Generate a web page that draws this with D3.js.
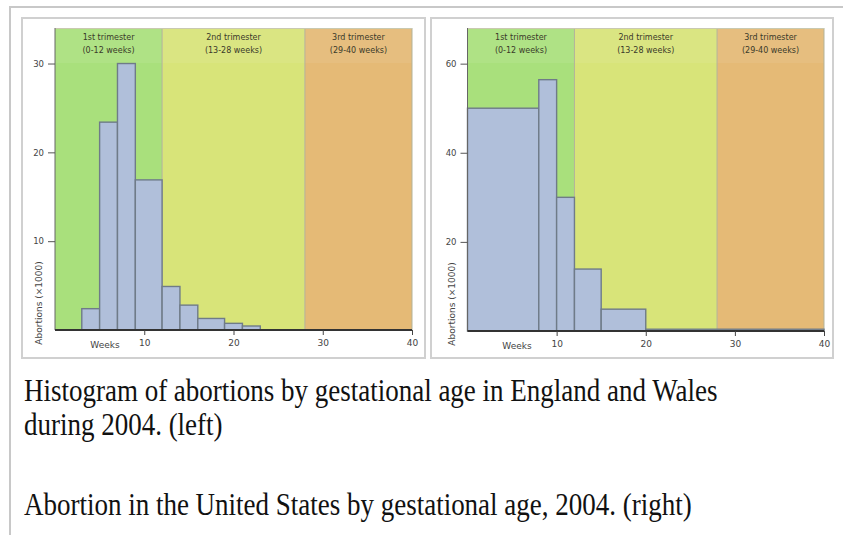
<!DOCTYPE html>
<html>
<head>
<meta charset="utf-8">
<script src="https://cdn.jsdelivr.net/npm/d3@7"></script>
<style>
  html, body { margin: 0; padding: 0; background: #fff; }
  svg { display: block; }
</style>
</head>
<body>
<svg id="chart" width="843" height="535"></svg>
<script>
// ---------- data ----------
const trimesterNames  = ["1st trimester", "2nd trimester", "3rd trimester"];
const trimesterRanges = ["(0-12 weeks)", "(13-28 weeks)", "(29-40 weeks)"];
const trimesterBounds = [0, 12, 28, 40];
const trimesterColors = ["#a9e07c", "#d8e479", "#e5ba76"];

// England and Wales 2004 (abortions x1000 per bin)
const ewBinEdges = [3, 5, 7, 9, 12, 14, 16, 19, 21, 23];
const ewValues   = [2.4, 23.4, 30, 16.9, 4.9, 2.8, 1.3, 0.75, 0.45];
const ewYTicks   = [10, 20, 30];

// United States 2004
const usBinEdges = [0, 8, 10, 12, 15, 20, 40];
const usValues   = [50, 56.4, 30, 13.9, 4.9, 0.4];
const usYTicks   = [20, 40, 60];

const weekTicks = [10, 20, 30, 40];

const captionLines = [
  "Histogram of abortions by gestational age in England and Wales",
  "during 2004. (left)",
  "Abortion in the United States by gestational age, 2004. (right)"
];

// ---------- drawing ----------
const svg = d3.select("#chart");

// outer frame
svg.append("rect").attr("x", 10).attr("y", 7).attr("width", 845).attr("height", 540)
  .attr("fill", "none").attr("stroke", "#c8c8c8").attr("stroke-width", 2);

// thumbnail frames
[[22, 18, 403, 340], [431, 18, 402, 340]].forEach(([x, y, w, h]) => {
  svg.append("rect").attr("x", x).attr("y", y).attr("width", w).attr("height", h)
    .attr("fill", "#fff").attr("stroke", "#d0d0d0").attr("stroke-width", 2);
});

function drawPanel(cfg) {
  const g = svg.append("g");
  const x = d3.scaleLinear().domain([0, 40]).range([cfg.left, cfg.right]);
  const y = d3.scaleLinear().domain([0, cfg.yMax]).range([cfg.bottom, cfg.top]);

  // trimester backgrounds
  const tri = trimesterNames.map((n, i) => ({
    name: n, range: trimesterRanges[i],
    x0: trimesterBounds[i], x1: trimesterBounds[i + 1], color: trimesterColors[i]
  }));
  g.selectAll("rect.tri").data(tri).enter().append("rect")
    .attr("class", "tri")
    .attr("x", d => x(d.x0)).attr("width", d => x(d.x1) - x(d.x0))
    .attr("y", cfg.top).attr("height", cfg.bottom - cfg.top)
    .attr("fill", d => d.color);
  // header band (slightly lighter)
  g.append("rect").attr("x", x(0)).attr("width", x(40) - x(0))
    .attr("y", cfg.top).attr("height", 35)
    .attr("fill", "#fff").attr("opacity", 0.07);
  // region boundary lines
  g.selectAll("line.tb").data(trimesterBounds.slice(1)).enter().append("line")
    .attr("x1", d => x(d)).attr("x2", d => x(d))
    .attr("y1", cfg.top).attr("y2", cfg.bottom)
    .attr("stroke", "#b3b39a").attr("stroke-width", 1);
  g.append("line").attr("x1", x(0)).attr("x2", x(40)).attr("y1", cfg.top + 0.5).attr("y2", cfg.top + 0.5)
    .attr("stroke", "#c9c9b0").attr("stroke-width", 1);

  // labels
  const lab = g.selectAll("g.tl").data(tri).enter().append("g")
    .attr("transform", d => `translate(${(x(d.x0) + x(d.x1)) / 2},0)`);
  lab.append("text").attr("y", cfg.top + 12).attr("text-anchor", "middle")
    .attr("font-family", "DejaVu Sans").attr("font-size", 8).attr("fill", "#3a3a2a")
    .text(d => d.name);
  lab.append("text").attr("y", cfg.top + 25).attr("text-anchor", "middle")
    .attr("font-family", "DejaVu Sans").attr("font-size", 8).attr("fill", "#3a3a2a")
    .text(d => d.range);

  // bars
  const bins = cfg.values.map((v, i) => ({ x0: cfg.edges[i], x1: cfg.edges[i + 1], v }));
  g.selectAll("rect.bar").data(bins).enter().append("rect")
    .attr("class", "bar")
    .attr("x", d => x(d.x0)).attr("width", d => x(d.x1) - x(d.x0))
    .attr("y", d => y(d.v)).attr("height", d => y(0) - y(d.v))
    .attr("fill", "#b0bfda").attr("stroke", "#6f7b88").attr("stroke-width", 1.4);

  // y axis
  const ya = g.append("g").attr("transform", `translate(${cfg.left},0)`)
    .call(d3.axisLeft(y).tickValues(cfg.yTicks).tickSize(7).tickPadding(4));
  ya.select(".domain").attr("stroke", "#666").attr("stroke-width", 1)
    .attr("d", `M0,${cfg.top}V${cfg.bottom}`);
  ya.selectAll(".tick line").attr("stroke", "#555");
  ya.selectAll(".tick text").attr("font-family", "DejaVu Sans").attr("font-size", 8.5).attr("fill", "#444");

  // x axis
  const xa = g.append("g").attr("transform", `translate(0,${cfg.bottom})`)
    .call(d3.axisBottom(x).tickValues(weekTicks).tickSize(5).tickPadding(5));
  xa.select(".domain").attr("stroke", "#333").attr("stroke-width", 2)
    .attr("d", `M${cfg.left},0H${cfg.right}`);
  xa.selectAll(".tick line").attr("stroke", "#444");
  xa.selectAll(".tick text").attr("font-family", "DejaVu Sans").attr("font-size", 9).attr("fill", "#444");

  g.append("text").attr("x", cfg.weeksX).attr("y", cfg.bottom + 18).attr("text-anchor", "middle")
    .attr("font-family", "DejaVu Sans").attr("font-size", 9).attr("fill", "#444").text("Weeks");
  g.append("text").attr("transform", `translate(${cfg.ylabX},${cfg.bottom - 27}) rotate(-90)`)
    .attr("text-anchor", "middle").attr("font-family", "DejaVu Sans").attr("font-size", 9)
    .attr("fill", "#444").text("Abortions (×1000)");
}

drawPanel({ left: 55, right: 412, top: 28, bottom: 330, yMax: 34,
  edges: ewBinEdges, values: ewValues, yTicks: ewYTicks, weeksX: 105, ylabX: 42 });
drawPanel({ left: 467.5, right: 824, top: 28, bottom: 331, yMax: 68,
  edges: usBinEdges, values: usValues, yTicks: usYTicks, weeksX: 517, ylabX: 455 });

// caption (slightly condensed serif, as in the reference)
const capY = [401, 435, 515];
svg.selectAll("text.cap").data(captionLines).enter().append("text")
  .attr("class", "cap")
  .attr("transform", (d, i) => `translate(24,${capY[i]}) scale(1,1.16)`)
  .attr("font-family", "Liberation Serif").attr("font-size", 27).attr("fill", "#111")
  .text(d => d);
</script>
</body>
</html>
